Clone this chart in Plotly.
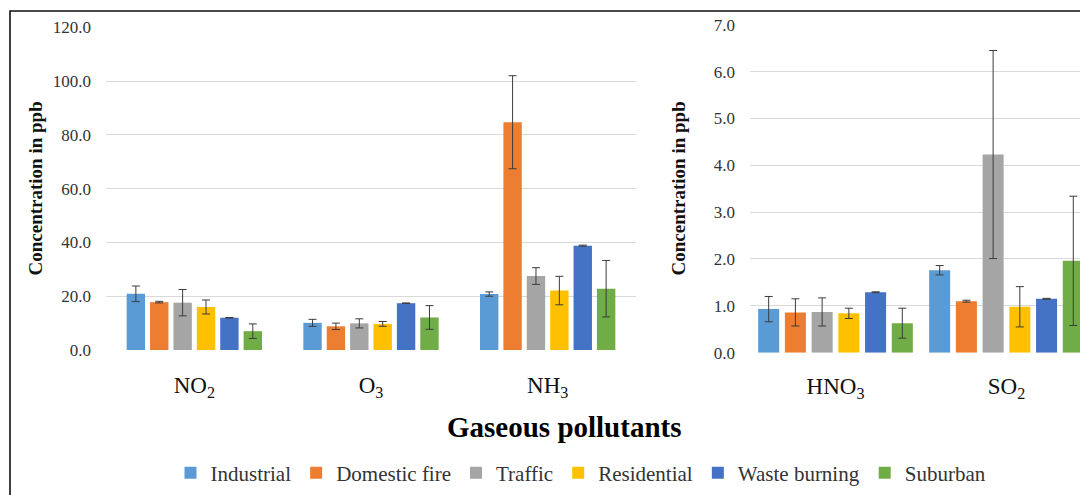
import plotly.graph_objects as go

# ---------------- data ----------------
series_names = ["Industrial", "Domestic fire", "Traffic", "Residential", "Waste burning", "Suburban"]
series_colors = ["#5B9BD5", "#ED7D31", "#A5A5A5", "#FFC000", "#4472C4", "#70AD47"]

left_categories = ["NO<sub>2</sub>", "O<sub>3</sub>", "NH<sub>3</sub>"]
right_categories = ["HNO<sub>3</sub>", "SO<sub>2</sub>"]

# left panel (ppb): NO2, O3, NH3
industrial_left = [20.9, 10.1, 20.8]
domestic_left = [17.8, 8.8, 84.7]
traffic_left = [17.6, 9.9, 27.5]
residential_left = [16.0, 9.7, 22.1]
waste_left = [12.0, 17.4, 38.8]
suburban_left = [7.0, 12.1, 22.8]

industrial_left_err = [2.9, 1.3, 0.8]
domestic_left_err = [0.3, 1.2, 17.3]
traffic_left_err = [4.9, 1.7, 3.1]
residential_left_err = [2.6, 0.9, 5.3]
waste_left_err = [0.1, 0.1, 0.2]
suburban_left_err = [2.7, 4.4, 10.5]

# right panel (ppb): HNO3, SO2
industrial_right = [0.93, 1.76]
domestic_right = [0.86, 1.10]
traffic_right = [0.87, 4.23]
residential_right = [0.84, 0.98]
waste_right = [1.29, 1.15]
suburban_right = [0.63, 1.96]

industrial_right_err = [0.27, 0.10]
domestic_right_err = [0.29, 0.02]
traffic_right_err = [0.30, 2.22]
residential_right_err = [0.11, 0.43]
waste_right_err = [0.01, 0.01]
suburban_right_err = [0.32, 1.38]

left_tickvals = [0, 20, 40, 60, 80, 100, 120]
right_tickvals = [0, 1, 2, 3, 4, 5, 6, 7]

left_values = [industrial_left, domestic_left, traffic_left, residential_left, waste_left, suburban_left]
left_errors = [industrial_left_err, domestic_left_err, traffic_left_err, residential_left_err, waste_left_err, suburban_left_err]
right_values = [industrial_right, domestic_right, traffic_right, residential_right, waste_right, suburban_right]
right_errors = [industrial_right_err, domestic_right_err, traffic_right_err, residential_right_err, waste_right_err, suburban_right_err]

# ---------------- figure ----------------
W, H = 1080, 495
FONT = "Liberation Serif"
ERR_COLOR = "#3c3c3c"
GRID = "#d9d9d9"

fig = go.Figure()

# bar geometry (category units)
L_PITCH, L_WIDTH = 0.1324, 0.1041
R_PITCH, R_WIDTH = 0.1563, 0.1230
L_START = -(5 * L_PITCH + L_WIDTH) / 2
R_START = -(5 * R_PITCH + R_WIDTH) / 2

for i, name in enumerate(series_names):
    fig.add_trace(go.Bar(
        name=name, x=left_categories, y=left_values[i],
        marker=dict(color=series_colors[i], line=dict(width=0)),
        offset=L_START + i * L_PITCH, width=L_WIDTH,
        error_y=dict(type="data", array=left_errors[i], visible=True,
                     color=ERR_COLOR, thickness=1, width=4),
        xaxis="x", yaxis="y", legendgroup=name, showlegend=True,
    ))
for i, name in enumerate(series_names):
    fig.add_trace(go.Bar(
        name=name, x=right_categories, y=right_values[i],
        marker=dict(color=series_colors[i], line=dict(width=0)),
        offset=R_START + i * R_PITCH, width=R_WIDTH,
        error_y=dict(type="data", array=right_errors[i], visible=True,
                     color=ERR_COLOR, thickness=1, width=4),
        xaxis="x2", yaxis="y2", legendgroup=name, showlegend=False,
    ))

def py(px):
    return 1 - px / H

def pxx(px):
    return px / W

tickfont_y = dict(family=FONT, size=17, color="#333333")
tickfont_x = dict(family=FONT, size=23, color="#111111")

fig.update_layout(
    template="none",
    width=W, height=H,
    margin=dict(l=0, r=0, t=0, b=0, autoexpand=False),
    paper_bgcolor="white", plot_bgcolor="white",
    barmode="overlay",
    font=dict(family=FONT, size=16, color="#222222"),
    xaxis=dict(domain=[pxx(106), pxx(636)], type="category", range=[-0.5, 2.5],
               showgrid=False, zeroline=False, showline=False, ticks="",
               tickfont=tickfont_x, ticklabelstandoff=19, automargin=False,
               fixedrange=True, anchor="y"),
    yaxis=dict(domain=[py(350), py(27.3)], range=[0, 120], tickvals=left_tickvals,
               tickformat=".1f", showgrid=True, gridcolor=GRID, gridwidth=1,
               zeroline=False, showline=False, ticks="", tickfont=tickfont_y,
               ticklabelstandoff=14, automargin=False, fixedrange=True, anchor="x"),
    xaxis2=dict(domain=[pxx(750), 1.0], type="category", range=[-0.5, 1.43],
                showgrid=False, zeroline=False, showline=False, ticks="",
                tickfont=tickfont_x, ticklabelstandoff=17, automargin=False,
                fixedrange=True, anchor="y2"),
    yaxis2=dict(domain=[py(352.7), py(24.7)], range=[0, 7], tickvals=right_tickvals,
                tickformat=".1f", showgrid=True, gridcolor=GRID, gridwidth=1,
                zeroline=False, showline=False, ticks="", tickfont=tickfont_y,
                ticklabelstandoff=14, automargin=False, anchor="x2", fixedrange=True),
    legend=dict(orientation="h", x=pxx(581), xanchor="center", y=py(473), yanchor="middle",
                font=dict(family=FONT, size=21, color="#333333"),
                bgcolor="rgba(0,0,0,0)", itemclick=False, itemdoubleclick=False,
                itemwidth=30, traceorder="normal"),
    showlegend=True,
)

annotations = [
    dict(text="<b>Concentration in ppb</b>", x=pxx(35), y=py(188.5), xref="paper", yref="paper",
         textangle=-90, showarrow=False, font=dict(family=FONT, size=19, color="#111111"),
         xanchor="center", yanchor="middle"),
    dict(text="<b>Concentration in ppb</b>", x=pxx(678), y=py(188.5), xref="paper", yref="paper",
         textangle=-90, showarrow=False, font=dict(family=FONT, size=19, color="#111111"),
         xanchor="center", yanchor="middle"),
    dict(text="<b>Gaseous pollutants</b>", x=pxx(564), y=py(427), xref="paper", yref="paper",
         showarrow=False, font=dict(family=FONT, size=29, color="#000000"),
         xanchor="center", yanchor="middle"),
]
fig.update_layout(annotations=annotations)

# outer frame (cut off on the right and bottom)
fig.add_shape(type="rect", xref="paper", yref="paper",
              x0=pxx(10), y0=-0.05, x1=1.05, y1=py(11),
              line=dict(color="#111111", width=1.6), fillcolor="rgba(0,0,0,0)", layer="above")

fig.write_html("out.html",
               config={"displayModeBar": False, "staticPlot": False},
               post_script="document.body.style.margin='0';document.body.style.padding='0';")
